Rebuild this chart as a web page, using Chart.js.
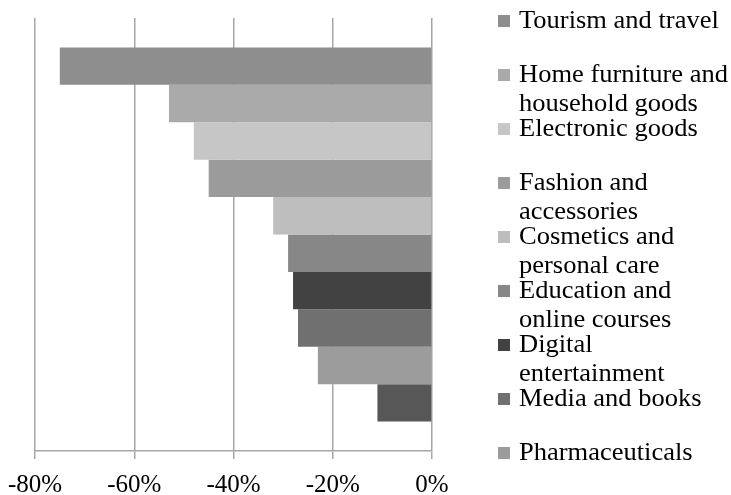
<!DOCTYPE html>
<html>
<head>
<meta charset="utf-8">
<script src="https://cdn.jsdelivr.net/npm/chart.js@4/dist/chart.umd.min.js"></script>
<style>
  html, body { margin: 0; padding: 0; background: #fff; }
  #wrap { width: 731px; height: 495px; }
</style>
</head>
<body>
<div id="wrap"><canvas id="chart" width="731" height="495"></canvas></div>
<script>
// sectors, top to bottom (the last bar has no entry in the legend)
let sectors = ["Tourism and travel", "Home furniture and household goods", "Electronic goods",
	"Fashion and accessories", "Cosmetics and personal care", "Education and online courses",
	"Digital entertainment", "Media and books", "Pharmaceuticals", ""];
let changes = [-75, -53, -48, -45, -32, -29, -28, -27, -23, -11];
let colors = ["#8e8e8e", "#aaaaaa", "#c6c6c6", "#9b9b9b", "#bebebe", "#878787",
	"#424242", "#707070", "#9c9c9c", "#575757"];
let tickValues = [-80, -60, -40, -20, 0];

const serif = "'Liberation Serif', 'Times New Roman', serif";

let datasets = [];
for (let i = 0; i < changes.length; i++) {
	datasets.push({
		label: sectors[i],
		data: [changes[i]],
		backgroundColor: colors[i],
		borderWidth: 0,
		categoryPercentage: 0.864,
		barPercentage: 1
	});
}

function wrapText(ctx, text, maxWidth) {
	let words = text.split(" ");
	let lines = [];
	let line = "";
	for (let w of words) {
		let test = line ? line + " " + w : w;
		if (ctx.measureText(test).width > maxWidth && line) {
			lines.push(line);
			line = w;
		} else {
			line = test;
		}
	}
	if (line) lines.push(line);
	return lines;
}

// legend on the right, drawn by hand so the long names can wrap
// (the source text is a little wider than plain Times, hence the x stretch)
let sideLegend = {
	id: "sideLegend",
	afterDraw(chart) {
		let ctx = chart.ctx;
		let stretch = 1.06;
		ctx.save();
		ctx.font = "25px " + serif;
		ctx.textBaseline = "alphabetic";
		ctx.textAlign = "left";
		let baseline = 28;
		chart.data.datasets.forEach(function (ds) {
			if (!ds.label) return;
			ctx.fillStyle = ds.backgroundColor;
			ctx.fillRect(498, baseline - 13, 12, 12);
			ctx.fillStyle = "#000";
			let lines = wrapText(ctx, ds.label, 211 / stretch);
			lines.forEach(function (l, k) {
				ctx.save();
				ctx.translate(519, baseline + k * 29);
				ctx.scale(stretch, 1);
				ctx.fillText(l, 0, 0);
				ctx.restore();
			});
			baseline += 54;
		});
		ctx.restore();
	}
};

new Chart(document.getElementById("chart"), {
	type: "bar",
	data: { labels: [""], datasets: datasets },
	options: {
		indexAxis: "y",
		responsive: false,
		animation: false,
		layout: { padding: { top: 18, left: 35, right: 299, bottom: 0 } },
		plugins: {
			legend: { display: false },
			tooltip: { enabled: false }
		},
		scales: {
			x: {
				min: -80,
				max: 0,
				afterBuildTicks: function (axis) {
					axis.ticks = tickValues.map(function (v) { return { value: v }; });
				},
				afterFit: function (axis) {
					// labels sit low under the axis, keep the plot tall
					axis.height = 44;
					axis.paddingLeft = 30;
					axis.paddingRight = 18;
				},
				grid: { color: "#a6a6a6", lineWidth: 1.5, tickLength: 8, drawOnChartArea: true },
				border: { display: true, color: "#a6a6a6", width: 1.5 },
				ticks: {
					color: "#000",
					font: { family: serif, size: 25 },
					padding: 11,
					maxRotation: 0,
					callback: function (v) { return v + "%"; }
				}
			},
			y: { display: false }
		}
	},
	plugins: [sideLegend]
});
</script>
</body>
</html>
